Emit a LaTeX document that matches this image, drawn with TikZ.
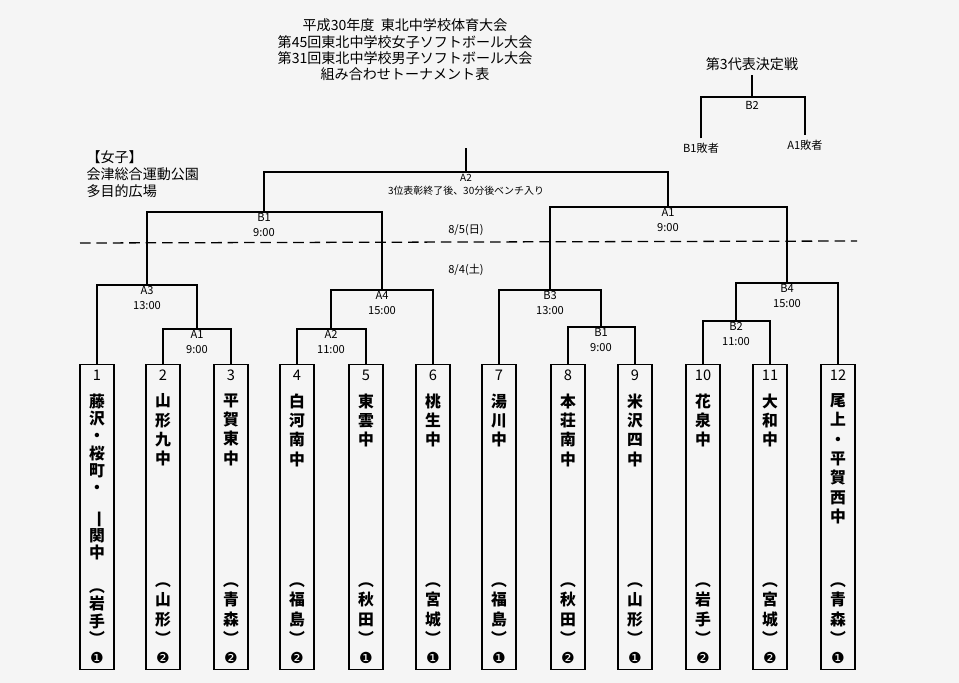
\documentclass[tikz,border=0pt]{standalone}
\usepackage{fontspec}
\setmainfont{Noto Sans CJK JP}
\newfontfamily\seedfont{DejaVu Sans}
\usetikzlibrary{positioning}
\newcommand{\mfont}{\fontsize{9.5}{12}\selectfont}

\begin{document}
\begin{tikzpicture}[x=0.03cm,y=-0.03cm,line width=1.1pt,
    teambox/.style={draw,minimum width=1.02cm,minimum height=9.15cm,anchor=north,inner sep=0pt},
    teamtxt/.style={align=center,inner sep=0pt,font=\fontsize{13.5}{#1}\selectfont\bfseries},
    match/.style={font=\fontsize{9.5}{12.5}\selectfont,align=center,below,inner sep=1pt}]
	\useasboundingbox[fill=black!4] (0,0) rectangle (959,683);

	% title
	\node[align=center,font=\fontsize{12}{14}\selectfont] (title) at (405,50)
	    {平成30年度\ \ 東北中学校体育大会\\第45回東北中学校女子ソフトボール大会\\第31回東北中学校男子ソフトボール大会\\組み合わせトーナメント表};
	\node[align=left,anchor=north west,font=\fontsize{12}{14.5}\selectfont] (place) at (82,146)
	    {【女子】\\会津総合運動公園\\多目的広場};

	% teams
	\foreach \i/\x/\name/\pref/\seed/\ls in {
	    1/97/{藤\\沢\\・\\桜\\町\\・\\\rotatebox{-90}{一}\\関\\中}/{岩\\手}/❶/14.8,
	    2/163/{山\\形\\九\\中}/{山\\形}/❷/16.5,
	    3/231/{平\\賀\\東\\中}/{青\\森}/❷/16.5,
	    4/297/{白\\河\\南\\中}/{福\\島}/❷/16.5,
	    5/366/{東\\雲\\中}/{秋\\田}/❶/16.5,
	    6/433/{桃\\生\\中}/{宮\\城}/❶/16.5,
	    7/499/{湯\\川\\中}/{福\\島}/❶/16.5,
	    8/568/{本\\荘\\南\\中}/{秋\\田}/❷/16.5,
	    9/635/{米\\沢\\四\\中}/{山\\形}/❶/16.5,
	    10/703/{花\\泉\\中}/{岩\\手}/❷/16.5,
	    11/770/{大\\和\\中}/{宮\\城}/❷/16.5,
	    12/838/{尾\\上\\・\\平\\賀\\西\\中}/{青\\森}/❶/16.5}{
	    \node[teambox] (t\i) at (\x,364) {};
	    \node[below=1pt of t\i.north,font=\fontsize{12.5}{13}\selectfont] (n\i) {\i};
	    \node[teamtxt=\ls,anchor=north] (nm\i) at (\x,393) {\name};
	    \node[teamtxt=\ls,anchor=south] (p\i) at (\x,645) {︵\\\pref\\︶};
	    \node[above=2pt of t\i.south,font=\seedfont\fontsize{13}{13}\selectfont] (s\i) {\seed};
	}

	% match points
	\coordinate (mA1) at (197,329);
	\coordinate (mA3) at (147,285);
	\coordinate (mA2) at (331,329);
	\coordinate (mA4) at (382,290);
	\coordinate (mB1) at (601,327);
	\coordinate (mB3) at (550,290);
	\coordinate (mB2) at (736,321);
	\coordinate (mB4) at (787,283);
	\coordinate (sB1) at (264,212);
	\coordinate (sA1) at (668,207);
	\coordinate (fA2) at (466,172);
	\coordinate (top) at (466,148);

	\draw (t2.north) |- (mA1) -| (t3.north);
	\draw (t1.north) |- (mA3) -| (mA1);
	\draw (t4.north) |- (mA2) -| (t5.north);
	\draw (mA2) |- (mA4) -| (t6.north);
	\draw (t8.north) |- (mB1) -| (t9.north);
	\draw (t7.north) |- (mB3) -| (mB1);
	\draw (t10.north) |- (mB2) -| (t11.north);
	\draw (mB2) |- (mB4) -| (t12.north);
	\draw (mA3) |- (sB1) -| (mA4);
	\draw (mB3) |- (sA1) -| (mB4);
	\draw (sB1) |- (fA2) -| (sA1);
	\draw (fA2) -- (top);

	\node[match] (lA1) at (mA1) {A1\\9:00};
	\node[match] (lA3) at (mA3) {A3\\13:00};
	\node[match] (lA2) at (mA2) {A2\\11:00};
	\node[match] (lA4) at (mA4) {A4\\15:00};
	\node[match] (lB1) at (mB1) {B1\\9:00};
	\node[match] (lB3) at (mB3) {B3\\13:00};
	\node[match] (lB2) at (mB2) {B2\\11:00};
	\node[match] (lB4) at (mB4) {B4\\15:00};
	\node[match] (lsB1) at (sB1) {B1\\9:00};
	\node[match] (lsA1) at (sA1) {A1\\9:00};
	\node[match,font=\fontsize{8.5}{11.5}\selectfont] (lfA2) at (fA2) {A2\\3位表彰終了後、30分後ベンチ入り};

	% days
	\coordinate (dl) at (80,243);
	\coordinate (dr) at (857,241);
	\draw[dashed,dash pattern=on 9pt off 5pt] (dl) -- (dr);
	\node[font=\mfont] (d5) at (466,230) {8/5(日)};
	\node[font=\mfont] (d4) at (466,270) {8/4(土)};

	% third place
	\node[font=\fontsize{12}{14}\selectfont] (third) at (752,64) {第3代表決定戦};
	\coordinate (m3) at (752,97);
	\node[font=\mfont,below=0pt of m3] (l3) {B2};
	\node[font=\mfont] (los1) at (701,148) {B1敗者};
	\node[font=\mfont] (los2) at (805,145) {A1敗者};
	\draw (third) -- (m3);
	\draw (los1.north) |- (m3) -| (los2.north);
\end{tikzpicture}
\end{document}
